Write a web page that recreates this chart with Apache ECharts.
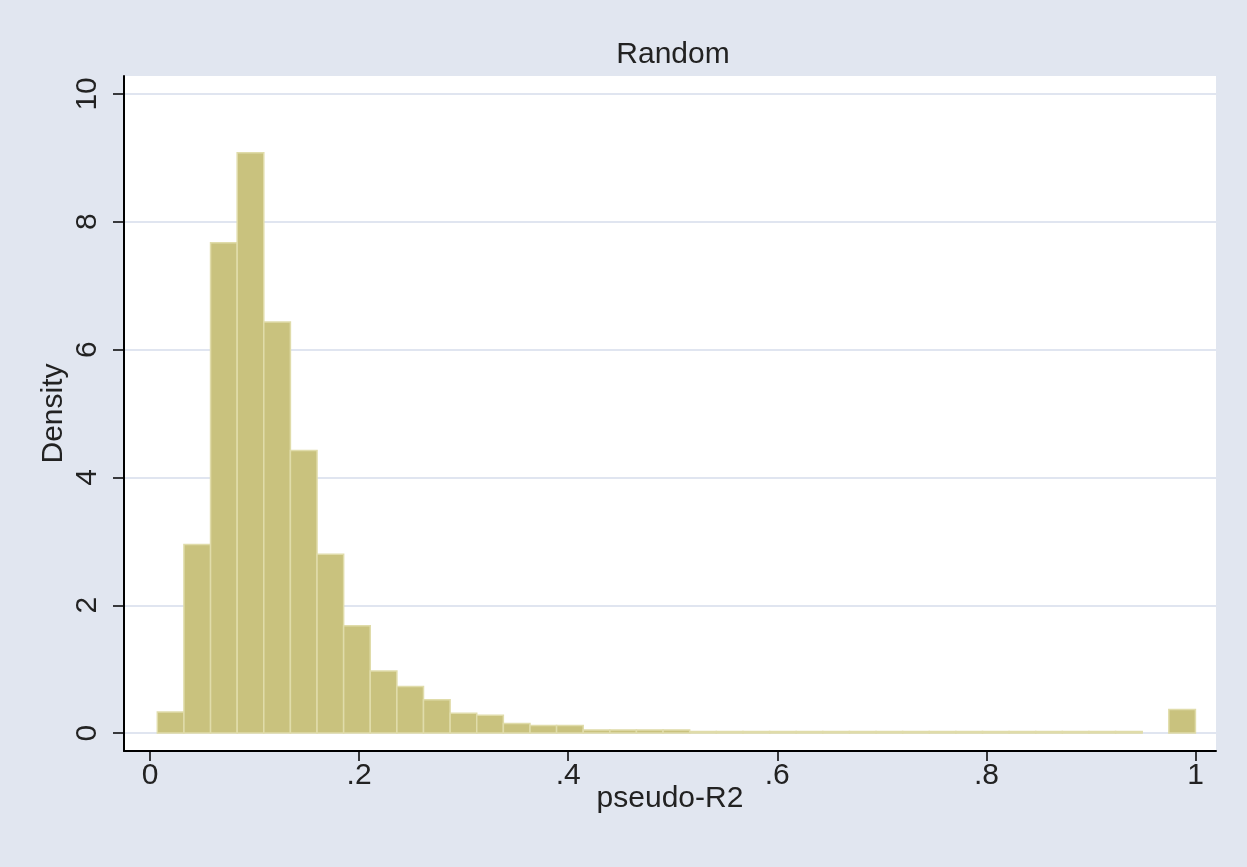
<!DOCTYPE html>
<html>
<head>
<meta charset="utf-8">
<script src="https://cdn.jsdelivr.net/npm/echarts@6/dist/echarts.min.js"></script>
<style>
html,body{margin:0;padding:0;background:#e1e6f0;}
#chart{width:1247px;height:867px;}
</style>
</head>
<body>
<div id="chart"></div>
<script>
// Histogram data
const binStart = 0.007;       // left edge of first bin
const binWidth = 0.02546;     // width of each bin
const densities = [
  0.33, 2.95, 7.67, 9.08, 6.43, 4.42, 2.80, 1.68, 0.97, 0.73,
  0.52, 0.31, 0.28, 0.15, 0.12, 0.12, 0.05, 0.05, 0.05, 0.05,
  0.025, 0.025, 0.025, 0.025, 0.025, 0.025, 0.025, 0.025, 0.025, 0.025,
  0.025, 0.025, 0.025, 0.025, 0.025, 0.025, 0.025, 0, 0.37
];
const xTickValues = [0, 0.2, 0.4, 0.6, 0.8, 1];
const xTickLabels = ['0', '.2', '.4', '.6', '.8', '1'];
const yTickValues = [0, 2, 4, 6, 8, 10];
const yTickLabels = ['0', '2', '4', '6', '8', '10'];
const titleText = 'Random';
const xTitle = 'pseudo-R2';
const yTitle = 'Density';

const binData = densities.map((d, i) => [binStart + i * binWidth, binStart + (i + 1) * binWidth, d]);

const FONT = '"Liberation Sans", Arial, sans-serif';
const TEXT = '#222';
const chart = echarts.init(document.getElementById('chart'), null, {renderer: 'canvas'});
chart.setOption({
  animation: false,
  backgroundColor: '#e1e6f0',
  title: {
    text: titleText,
    left: 668,
    top: 35,
    textAlign: 'center',
    textStyle: {fontFamily: FONT, fontSize: 30, fontWeight: 'normal', color: TEXT}
  },
  grid: {
    left: 124, right: 31, top: 76, bottom: 116,
    show: true, backgroundColor: '#ffffff', borderWidth: 0,
    containLabel: false
  },
  xAxis: {
    type: 'value',
    min: -0.02487, max: 1.01961,
    name: xTitle,
    nameLocation: 'middle',
    nameGap: 33,
    nameMoveOverlap: false,
    nameTextStyle: {fontFamily: FONT, fontSize: 30, color: TEXT},
    axisLine: {show: true, onZero: false, lineStyle: {color: '#000', width: 2}},
    axisTick: {show: true, length: 10, customValues: xTickValues, lineStyle: {color: '#000', width: 1.5}},
    axisLabel: {
      customValues: xTickValues, margin: 10,
      fontFamily: FONT, fontSize: 30, color: TEXT,
      formatter: v => xTickLabels[xTickValues.findIndex(t => Math.abs(t - v) < 1e-9)] ?? ''
    },
    splitLine: {show: false}
  },
  yAxis: {
    type: 'value',
    min: -0.28, max: 10.28,
    name: yTitle,
    nameLocation: 'middle',
    nameGap: 55,
    nameRotate: 90,
    nameMoveOverlap: false,
    nameTextStyle: {fontFamily: FONT, fontSize: 30, color: TEXT},
    axisLine: {show: true, onZero: false, lineStyle: {color: '#000', width: 2}},
    axisTick: {show: true, length: 11, customValues: yTickValues, lineStyle: {color: '#000', width: 1.5}},
    axisLabel: {
      customValues: yTickValues, margin: 21, rotate: 90,
      fontFamily: FONT, fontSize: 30, color: TEXT,
      formatter: v => yTickLabels[yTickValues.findIndex(t => Math.abs(t - v) < 1e-9)] ?? ''
    },
    splitLine: {show: true, lineStyle: {color: '#e0e5f0', width: 2}}
  },
  series: [{
    type: 'custom',
    data: binData,
    encode: {x: [0, 1], y: 2},
    renderItem: (params, api) => {
      const h = api.value(2);
      if (!(h > 0)) return null;
      const p0 = api.coord([api.value(0), 0]);
      const p1 = api.coord([api.value(1), h]);
      return {
        type: 'rect',
        shape: {x: p0[0], y: p1[1], width: p1[0] - p0[0], height: p0[1] - p1[1]},
        style: {fill: '#c9c27e', stroke: '#e0dcaa', lineWidth: 1.5}
      };
    }
  }]
});
</script>
</body>
</html>
